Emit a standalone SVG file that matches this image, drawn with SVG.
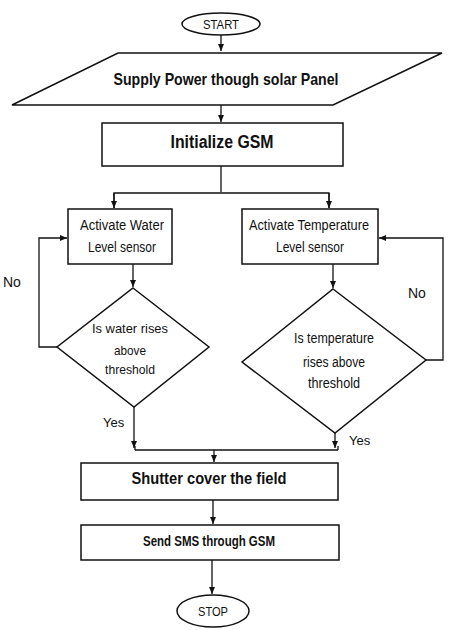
<svg xmlns="http://www.w3.org/2000/svg" width="449" height="630" viewBox="0 0 449 630">
<defs>
<marker id="ah" markerWidth="8" markerHeight="8" refX="7" refY="4" orient="auto" markerUnits="userSpaceOnUse">
<path d="M0,1 L7,4 L0,7 Z" fill="#111"/>
</marker>
<style>
.s{fill:#fff;stroke:#111;stroke-width:1.5}
.c{fill:none;stroke:#111;stroke-width:1.3}
text{font-family:"Liberation Sans",Arial,sans-serif;fill:#111}
.b{font-weight:bold}
.m{text-anchor:middle}
</style>
</defs>
<rect width="449" height="630" fill="#fff"/>
<g id="connectors">
<path class="c" d="M221,35 V51" marker-end="url(#ah)"/>
<path class="c" d="M221,105 V122" marker-end="url(#ah)"/>
<path class="c" d="M221,166 V192"/>
<path class="c" d="M114,208 V193 H329 V208" />
<path class="c" d="M114,193 V208" marker-end="url(#ah)"/>
<path class="c" d="M329,193 V208" marker-end="url(#ah)"/>
<path class="c" d="M133,264 V287" marker-end="url(#ah)"/>
<path class="c" d="M333,264 V288" marker-end="url(#ah)"/>
<path class="c" d="M57,347 H39 V238 H67" marker-end="url(#ah)"/>
<path class="c" d="M426,360 H443 V238 H379" marker-end="url(#ah)"/>
<path class="c" d="M134,407 V448" marker-end="url(#ah)"/>
<path class="c" d="M335,433 V448" marker-end="url(#ah)"/>
<path class="c" d="M135,450 H338"/>
<path class="c" d="M135,446 V450 M338,446 V450"/>
<path class="c" d="M214,450 V462" marker-end="url(#ah)"/>
<path class="c" d="M213,500 V524" marker-end="url(#ah)"/>
<path class="c" d="M212,560 V594" marker-end="url(#ah)"/>
<text x="3" y="287" font-size="14">No</text>
<text x="408" y="298" font-size="14">No</text>
<text x="103" y="427" font-size="13">Yes</text>
<text x="349" y="445" font-size="13">Yes</text>
</g>
<g id="start">
<ellipse class="s" cx="221" cy="24" rx="39" ry="11"/>
<text class="m" x="221" y="29" font-size="13" textLength="36" lengthAdjust="spacingAndGlyphs">START</text>
</g>
<g id="supply">
<polygon class="s" points="118,53 442,53 333,105 12,105"/>
<text class="m b" x="226" y="85" font-size="17" textLength="225" lengthAdjust="spacingAndGlyphs">Supply Power though solar Panel</text>
</g>
<g id="init">
<rect class="s" x="102" y="123" width="241" height="43"/>
<text class="m b" x="222" y="148" font-size="18" textLength="103" lengthAdjust="spacingAndGlyphs">Initialize GSM</text>
</g>
<g id="water">
<rect class="s" x="68" y="209" width="104" height="55"/>
<text class="m" x="122" y="230" font-size="14" textLength="84" lengthAdjust="spacingAndGlyphs">Activate Water</text>
<text class="m" x="122" y="252" font-size="14" textLength="68" lengthAdjust="spacingAndGlyphs">Level sensor</text>
</g>
<g id="temp">
<rect class="s" x="242" y="209" width="136" height="55"/>
<text class="m" x="309" y="230" font-size="14" textLength="120" lengthAdjust="spacingAndGlyphs">Activate Temperature</text>
<text class="m" x="310" y="252" font-size="14" textLength="68" lengthAdjust="spacingAndGlyphs">Level sensor</text>
</g>
<g id="waterq">
<polygon class="s" points="133,288 209,347 134,407 57,347"/>
<text class="m" x="130" y="333" font-size="13" textLength="76" lengthAdjust="spacingAndGlyphs">Is water rises</text>
<text class="m" x="130" y="355" font-size="13" textLength="32" lengthAdjust="spacingAndGlyphs">above</text>
<text class="m" x="130" y="374" font-size="13" textLength="50" lengthAdjust="spacingAndGlyphs">threshold</text>
</g>
<g id="tempq">
<polygon class="s" points="333,289 426,360 335,433 242,362"/>
<text class="m" x="334" y="343" font-size="14" textLength="80" lengthAdjust="spacingAndGlyphs">Is temperature</text>
<text class="m" x="334" y="367" font-size="14" textLength="62" lengthAdjust="spacingAndGlyphs">rises above</text>
<text class="m" x="334" y="388" font-size="14" textLength="52" lengthAdjust="spacingAndGlyphs">threshold</text>
</g>
<g id="shutter">
<rect class="s" x="81" y="463" width="257" height="37"/>
<text class="m b" x="209" y="484" font-size="17" textLength="155" lengthAdjust="spacingAndGlyphs">Shutter cover the field</text>
</g>
<g id="sms">
<rect class="s" x="81" y="525" width="258" height="35"/>
<text class="m b" x="209" y="546" font-size="14" textLength="132" lengthAdjust="spacingAndGlyphs">Send SMS through GSM</text>
</g>
<g id="stop">
<ellipse class="s" cx="213" cy="611" rx="36" ry="16"/>
<text class="m" x="213" y="616" font-size="13" textLength="30" lengthAdjust="spacingAndGlyphs">STOP</text>
</g>
</svg>
